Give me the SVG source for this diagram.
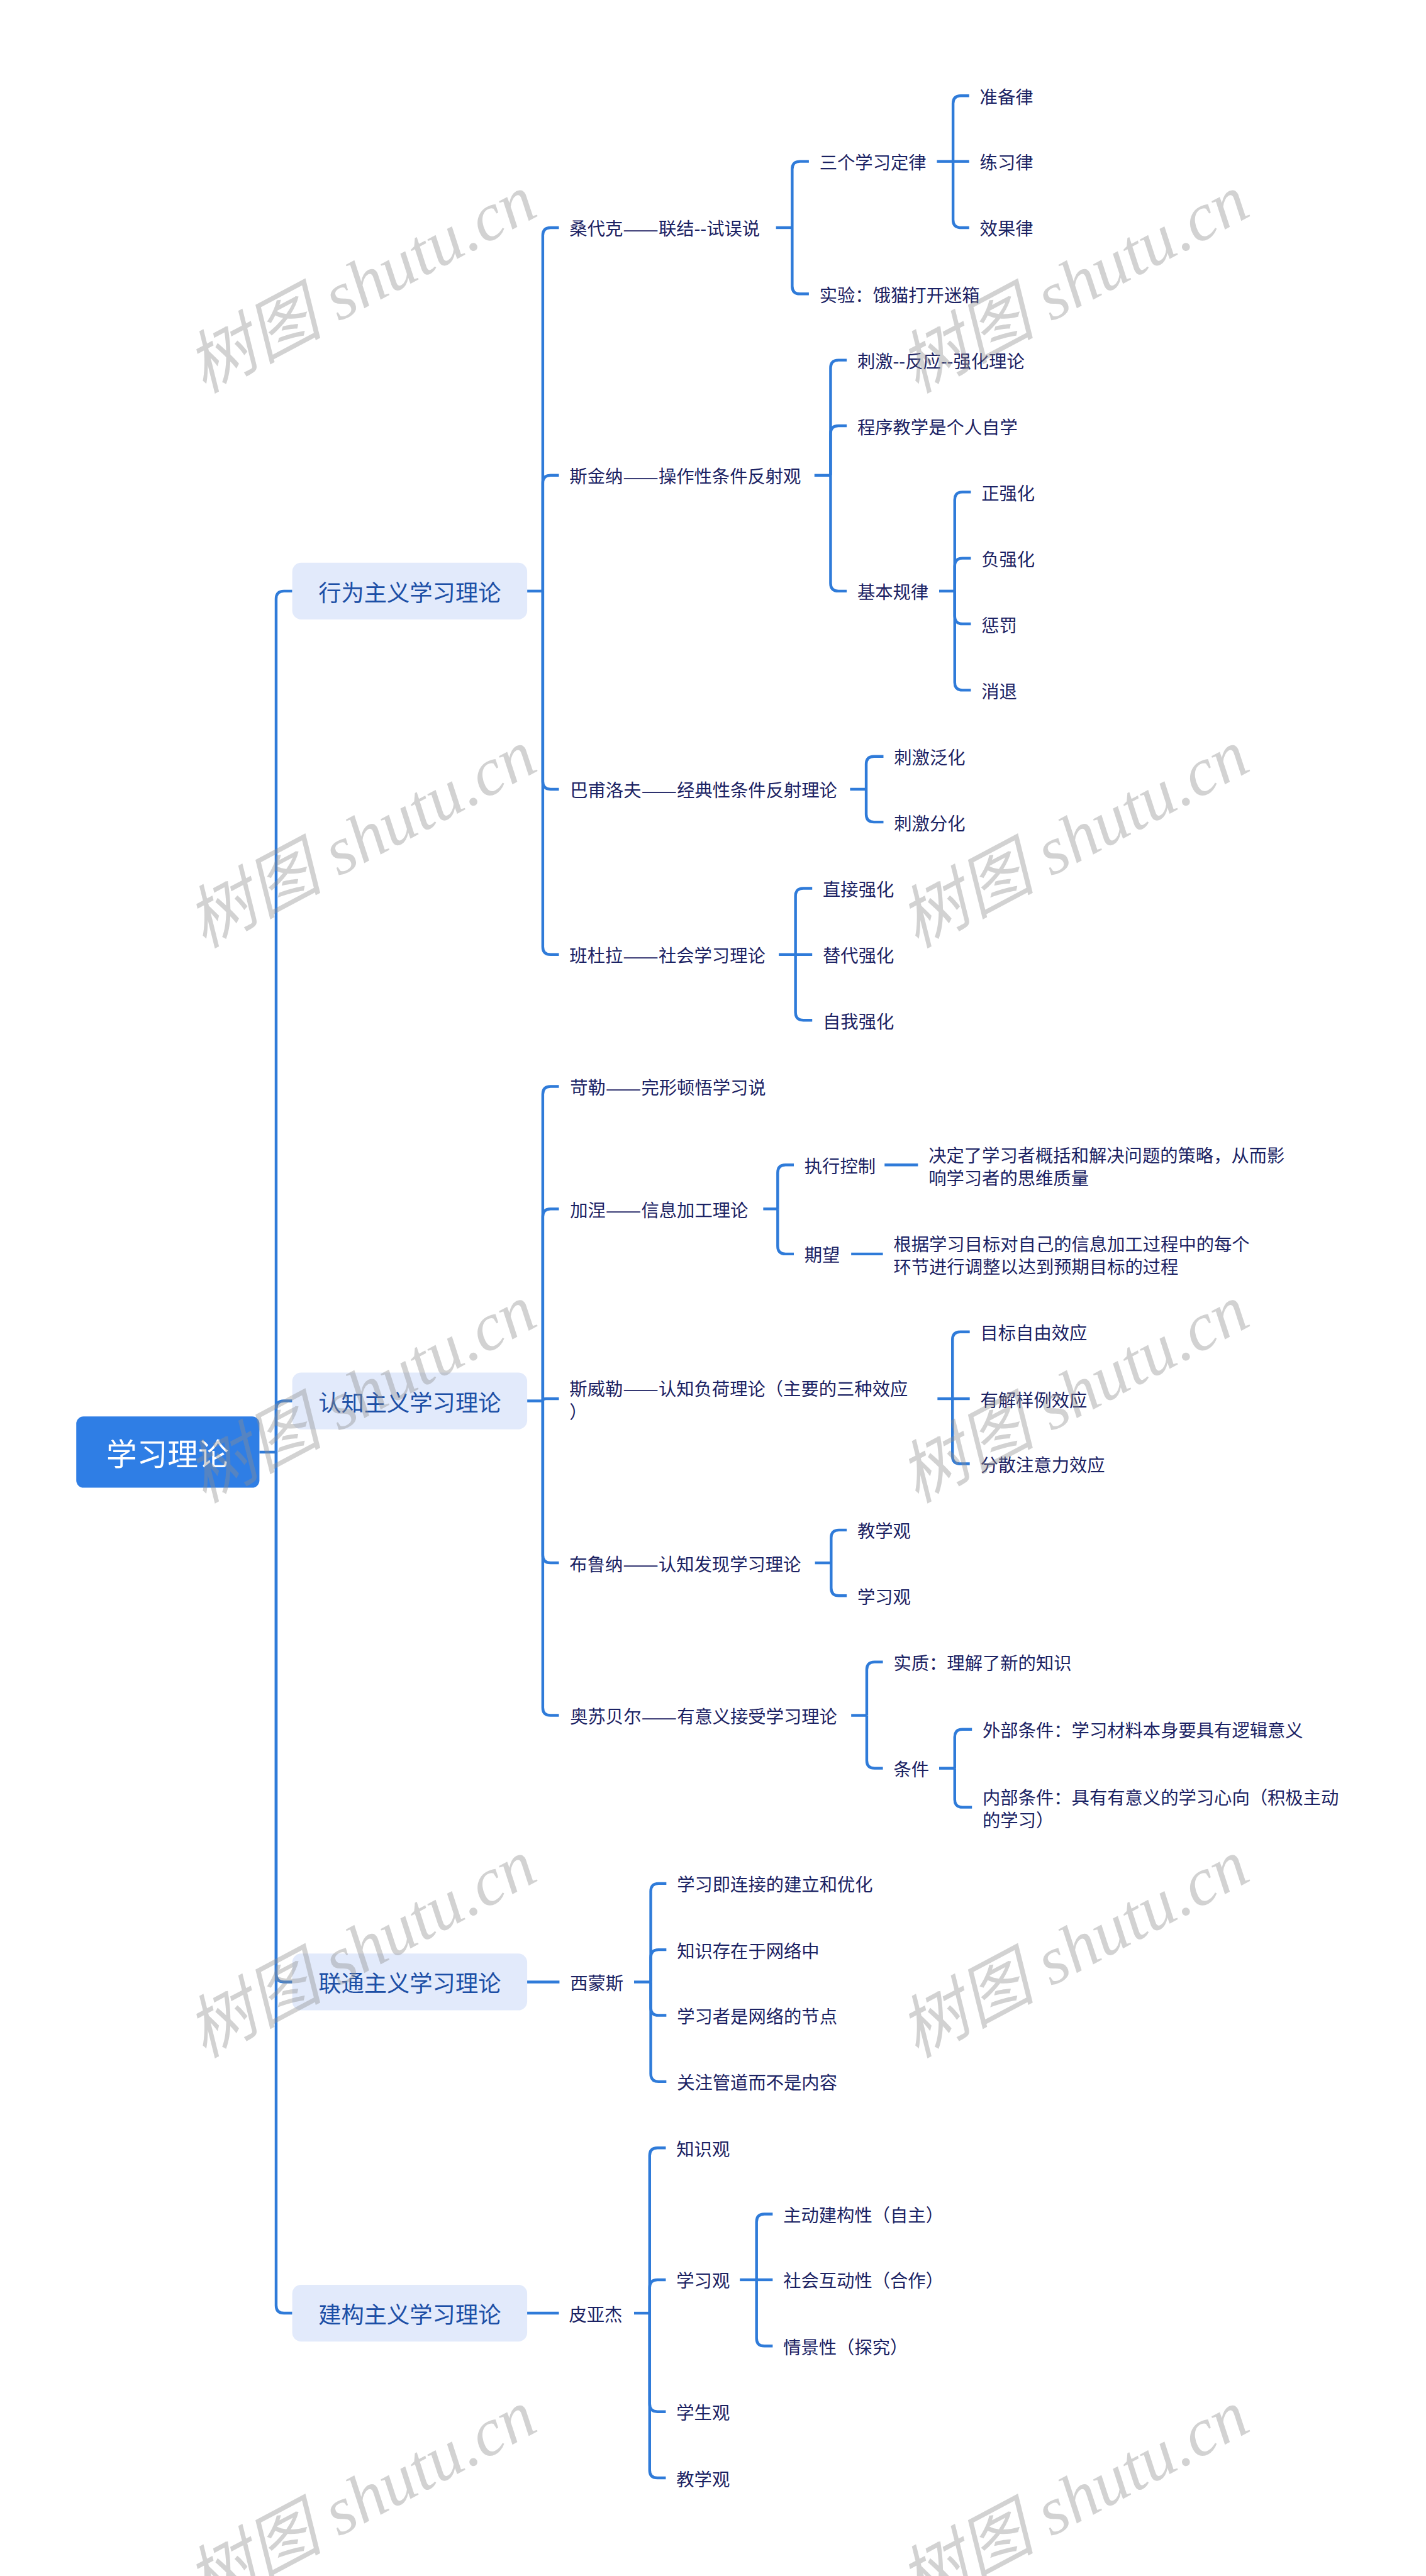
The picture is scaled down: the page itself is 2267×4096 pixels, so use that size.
<svg xmlns="http://www.w3.org/2000/svg" width="2267" height="4096" viewBox="0 0 2267 4096">
<defs>
<style>
.conn path{fill:none;stroke:#2F7BD9;stroke-width:5;stroke-linecap:butt;stroke-linejoin:round}
.t{font-family:"Noto Sans CJK SC","Liberation Sans",sans-serif;font-size:32px;fill:#1B2263;dominant-baseline:central}
.l1 rect{fill:#E2EAFB}
.l1 text{font-family:"Noto Sans CJK SC","Liberation Sans",sans-serif;font-size:41px;fill:#1C4FA6;dominant-baseline:central;text-anchor:middle}
.root rect{fill:#2F7EE5}
.root text{font-family:"Noto Sans CJK SC","Liberation Sans",sans-serif;font-size:55px;fill:#FFFFFF;dominant-baseline:central;text-anchor:middle}
.wm text{font-family:"Liberation Serif","Noto Sans CJK SC",serif;font-style:italic;font-size:122px;fill:#8F8F8F;fill-opacity:0.4;dominant-baseline:central;text-anchor:middle}
</style>
</defs>
<rect x="0" y="0" width="2267" height="4096" fill="#FFFFFF"/>
<g transform="scale(0.885)">
<g id="connectors" class="conn">
<path d="M466 2609 H496"/>
<path d="M496 2609 V1076 Q496 1062 510 1062 H525"/>
<path d="M496 2609 V2531 Q496 2517 510 2517 H525"/>
<path d="M496 2609 V3547 Q496 3561 510 3561 H525"/>
<path d="M496 2609 V4142 Q496 4156 510 4156 H525"/>
<path d="M947 1062 H975"/>
<path d="M975 1062 V423 Q975 409 989 409 H1004"/>
<path d="M975 1062 V868 Q975 854 989 854 H1004"/>
<path d="M975 1062 V1404 Q975 1418 989 1418 H1004"/>
<path d="M975 1062 V1701 Q975 1715 989 1715 H1004"/>
<path d="M1394 409 H1423"/>
<path d="M1423 409 V304 Q1423 290 1437 290 H1453"/>
<path d="M1423 409 V514 Q1423 528 1437 528 H1453"/>
<path d="M1683 290 H1712"/>
<path d="M1712 290 V186 Q1712 172 1726 172 H1741"/>
<path d="M1712 290 H1741"/>
<path d="M1712 290 V395 Q1712 409 1726 409 H1741"/>
<path d="M1463 854 H1492"/>
<path d="M1492 854 V661 Q1492 647 1506 647 H1521"/>
<path d="M1492 854 V779 Q1492 765 1506 765 H1521"/>
<path d="M1492 854 V1048 Q1492 1062 1506 1062 H1521"/>
<path d="M1687 1062 H1715"/>
<path d="M1715 1062 V898 Q1715 884 1729 884 H1744"/>
<path d="M1715 1062 V1017 Q1715 1003 1729 1003 H1744"/>
<path d="M1715 1062 V1107 Q1715 1121 1729 1121 H1744"/>
<path d="M1715 1062 V1226 Q1715 1240 1729 1240 H1744"/>
<path d="M1527 1418 H1556"/>
<path d="M1556 1418 V1373 Q1556 1359 1570 1359 H1587"/>
<path d="M1556 1418 V1463 Q1556 1477 1570 1477 H1587"/>
<path d="M1399 1715 H1429"/>
<path d="M1429 1715 V1610 Q1429 1596 1443 1596 H1459"/>
<path d="M1429 1715 H1459"/>
<path d="M1429 1715 V1819 Q1429 1833 1443 1833 H1459"/>
<path d="M947 2517 H975"/>
<path d="M975 2517 V1966 Q975 1952 989 1952 H1004"/>
<path d="M975 2517 V2186 Q975 2172 989 2172 H1004"/>
<path d="M975 2517 Q975 2513 981 2513 H1004"/>
<path d="M975 2517 V2794 Q975 2808 989 2808 H1004"/>
<path d="M975 2517 V3068 Q975 3082 989 3082 H1004"/>
<path d="M1371 2172 H1397"/>
<path d="M1397 2172 V2107 Q1397 2093 1411 2093 H1426"/>
<path d="M1397 2172 V2239 Q1397 2253 1411 2253 H1426"/>
<path d="M1589 2093 H1649"/>
<path d="M1529 2253 H1586"/>
<path d="M1684 2513 H1711"/>
<path d="M1711 2513 V2407 Q1711 2393 1725 2393 H1742"/>
<path d="M1711 2513 H1742"/>
<path d="M1711 2513 V2616 Q1711 2630 1725 2630 H1742"/>
<path d="M1464 2808 H1493"/>
<path d="M1493 2808 V2763 Q1493 2749 1507 2749 H1521"/>
<path d="M1493 2808 V2853 Q1493 2867 1507 2867 H1521"/>
<path d="M1529 3082 H1557"/>
<path d="M1557 3082 V3000 Q1557 2986 1571 2986 H1586"/>
<path d="M1557 3082 V3163 Q1557 3177 1571 3177 H1586"/>
<path d="M1687 3177 H1715"/>
<path d="M1715 3177 V3121 Q1715 3107 1729 3107 H1746"/>
<path d="M1715 3177 V3233 Q1715 3247 1729 3247 H1746"/>
<path d="M946 3561 H1005"/>
<path d="M1139 3561 H1169"/>
<path d="M1169 3561 V3398 Q1169 3384 1183 3384 H1197"/>
<path d="M1169 3561 V3517 Q1169 3503 1183 3503 H1197"/>
<path d="M1169 3561 V3607 Q1169 3621 1183 3621 H1197"/>
<path d="M1169 3561 V3726 Q1169 3740 1183 3740 H1197"/>
<path d="M946 4156 H1004"/>
<path d="M1139 4156 H1167"/>
<path d="M1167 4156 V3873 Q1167 3859 1181 3859 H1196"/>
<path d="M1167 4156 V4110 Q1167 4096 1181 4096 H1196"/>
<path d="M1167 4156 V4319 Q1167 4333 1181 4333 H1196"/>
<path d="M1167 4156 V4438 Q1167 4452 1181 4452 H1196"/>
<path d="M1329 4096 H1359"/>
<path d="M1359 4096 V3992 Q1359 3978 1373 3978 H1388"/>
<path d="M1359 4096 H1388"/>
<path d="M1359 4096 V4201 Q1359 4215 1373 4215 H1388"/>
</g>

<g id="root" class="root"><rect x="137" y="2545" width="329" height="128" rx="13"/><text x="301" y="2609">学习理论</text></g>

<g id="n-xingwei" class="l1"><rect x="525" y="1011" width="422" height="102" rx="16"/><text x="736" y="1062">行为主义学习理论</text></g>
<g id="n-renzhi" class="l1"><rect x="525" y="2466" width="422" height="102" rx="16"/><text x="736" y="2517">认知主义学习理论</text></g>
<g id="n-liantong" class="l1"><rect x="525" y="3510" width="422" height="102" rx="16"/><text x="736" y="3561">联通主义学习理论</text></g>
<g id="n-jiangou" class="l1"><rect x="525" y="4105" width="422" height="102" rx="16"/><text x="736" y="4156">建构主义学习理论</text></g>

<g id="n-sangdaike"><text class="t" x="1023" y="409">桑代克<tspan textLength="64" lengthAdjust="spacingAndGlyphs">——</tspan>联结--试误说</text></g>
<g id="n-sange"><text class="t" x="1472" y="290">三个学习定律</text></g>
<g id="n-zhunbei"><text class="t" x="1760" y="172">准备律</text></g>
<g id="n-lianxi"><text class="t" x="1760" y="290">练习律</text></g>
<g id="n-xiaoguo"><text class="t" x="1760" y="409">效果律</text></g>
<g id="n-shiyan"><text class="t" x="1472" y="528">实验：饿猫打开迷箱</text></g>

<g id="n-sijinna"><text class="t" x="1023" y="854">斯金纳<tspan textLength="64" lengthAdjust="spacingAndGlyphs">——</tspan>操作性条件反射观</text></g>
<g id="n-ciji"><text class="t" x="1540" y="647">刺激--反应--强化理论</text></g>
<g id="n-chengxu"><text class="t" x="1540" y="765">程序教学是个人自学</text></g>
<g id="n-jiben"><text class="t" x="1540" y="1062">基本规律</text></g>
<g id="n-zheng"><text class="t" x="1763" y="884">正强化</text></g>
<g id="n-fu"><text class="t" x="1763" y="1003">负强化</text></g>
<g id="n-chengfa"><text class="t" x="1763" y="1121">惩罚</text></g>
<g id="n-xiaotui"><text class="t" x="1763" y="1240">消退</text></g>

<g id="n-bafuluofu"><text class="t" x="1024" y="1418">巴甫洛夫<tspan textLength="64" lengthAdjust="spacingAndGlyphs">——</tspan>经典性条件反射理论</text></g>
<g id="n-fanhua"><text class="t" x="1606" y="1359">刺激泛化</text></g>
<g id="n-fenhua"><text class="t" x="1606" y="1477">刺激分化</text></g>

<g id="n-bandula"><text class="t" x="1023" y="1715">班杜拉<tspan textLength="64" lengthAdjust="spacingAndGlyphs">——</tspan>社会学习理论</text></g>
<g id="n-zhijie"><text class="t" x="1478" y="1596">直接强化</text></g>
<g id="n-tidai"><text class="t" x="1478" y="1715">替代强化</text></g>
<g id="n-ziwo"><text class="t" x="1478" y="1833">自我强化</text></g>

<g id="n-kele"><text class="t" x="1024" y="1952">苛勒<tspan textLength="64" lengthAdjust="spacingAndGlyphs">——</tspan>完形顿悟学习说</text></g>
<g id="n-jianie"><text class="t" x="1024" y="2172">加涅<tspan textLength="64" lengthAdjust="spacingAndGlyphs">——</tspan>信息加工理论</text></g>
<g id="n-zhixing"><text class="t" x="1445" y="2093">执行控制</text></g>
<g id="n-zhixing-d"><text class="t" x="1668"><tspan x="1668" y="2073">决定了学习者概括和解决问题的策略，从而影</tspan><tspan x="1668" y="2114">响学习者的思维质量</tspan></text></g>
<g id="n-qiwang"><text class="t" x="1445" y="2253">期望</text></g>
<g id="n-qiwang-d"><text class="t" x="1605"><tspan x="1605" y="2233">根据学习目标对自己的信息加工过程中的每个</tspan><tspan x="1605" y="2274">环节进行调整以达到预期目标的过程</tspan></text></g>

<g id="n-siweile"><text class="t" x="1023"><tspan x="1023" y="2493">斯威勒</tspan><tspan textLength="64" lengthAdjust="spacingAndGlyphs">——</tspan><tspan>认知负荷理论（主要的三种效应</tspan><tspan x="1023" y="2534">）</tspan></text></g>
<g id="n-mubiao"><text class="t" x="1761" y="2393">目标自由效应</text></g>
<g id="n-youjie"><text class="t" x="1761" y="2513">有解样例效应</text></g>
<g id="n-fensan"><text class="t" x="1761" y="2630">分散注意力效应</text></g>

<g id="n-bruna"><text class="t" x="1023" y="2808">布鲁纳<tspan textLength="64" lengthAdjust="spacingAndGlyphs">——</tspan>认知发现学习理论</text></g>
<g id="n-jiaoxueguan1"><text class="t" x="1540" y="2749">教学观</text></g>
<g id="n-xuexiguan1"><text class="t" x="1540" y="2867">学习观</text></g>

<g id="n-aosubeier"><text class="t" x="1024" y="3082">奥苏贝尔<tspan textLength="64" lengthAdjust="spacingAndGlyphs">——</tspan>有意义接受学习理论</text></g>
<g id="n-shizhi"><text class="t" x="1605" y="2986">实质：理解了新的知识</text></g>
<g id="n-tiaojian"><text class="t" x="1605" y="3177">条件</text></g>
<g id="n-waibu"><text class="t" x="1765" y="3107">外部条件：学习材料本身要具有逻辑意义</text></g>
<g id="n-neibu"><text class="t" x="1765"><tspan x="1765" y="3227">内部条件：具有有意义的学习心向（积极主动</tspan><tspan x="1765" y="3268">的学习）</tspan></text></g>

<g id="n-ximengsi"><text class="t" x="1024" y="3561">西蒙斯</text></g>
<g id="n-lj1"><text class="t" x="1216" y="3384">学习即连接的建立和优化</text></g>
<g id="n-lj2"><text class="t" x="1216" y="3503">知识存在于网络中</text></g>
<g id="n-lj3"><text class="t" x="1216" y="3621">学习者是网络的节点</text></g>
<g id="n-lj4"><text class="t" x="1216" y="3740">关注管道而不是内容</text></g>

<g id="n-piyajie"><text class="t" x="1022" y="4156">皮亚杰</text></g>
<g id="n-zhishiguan"><text class="t" x="1215" y="3859">知识观</text></g>
<g id="n-xuexiguan2"><text class="t" x="1215" y="4096">学习观</text></g>
<g id="n-xueshengguan"><text class="t" x="1215" y="4333">学生观</text></g>
<g id="n-jiaoxueguan2"><text class="t" x="1215" y="4452">教学观</text></g>
<g id="n-zhudong"><text class="t" x="1407" y="3978">主动建构性（自主）</text></g>
<g id="n-shehui"><text class="t" x="1407" y="4096">社会互动性（合作）</text></g>
<g id="n-qingjing"><text class="t" x="1407" y="4215">情景性（探究）</text></g>

<g id="watermarks" class="wm">
<text transform="translate(649 510) rotate(-28)">树图 shutu.cn</text>
<text transform="translate(1929 510) rotate(-28)">树图 shutu.cn</text>
<text transform="translate(649 1507) rotate(-28)">树图 shutu.cn</text>
<text transform="translate(1929 1507) rotate(-28)">树图 shutu.cn</text>
<text transform="translate(649 2504) rotate(-28)">树图 shutu.cn</text>
<text transform="translate(1929 2504) rotate(-28)">树图 shutu.cn</text>
<text transform="translate(649 3501) rotate(-28)">树图 shutu.cn</text>
<text transform="translate(1929 3501) rotate(-28)">树图 shutu.cn</text>
<text transform="translate(649 4490) rotate(-28)">树图 shutu.cn</text>
<text transform="translate(1929 4490) rotate(-28)">树图 shutu.cn</text>
</g>
</g>
</svg>
